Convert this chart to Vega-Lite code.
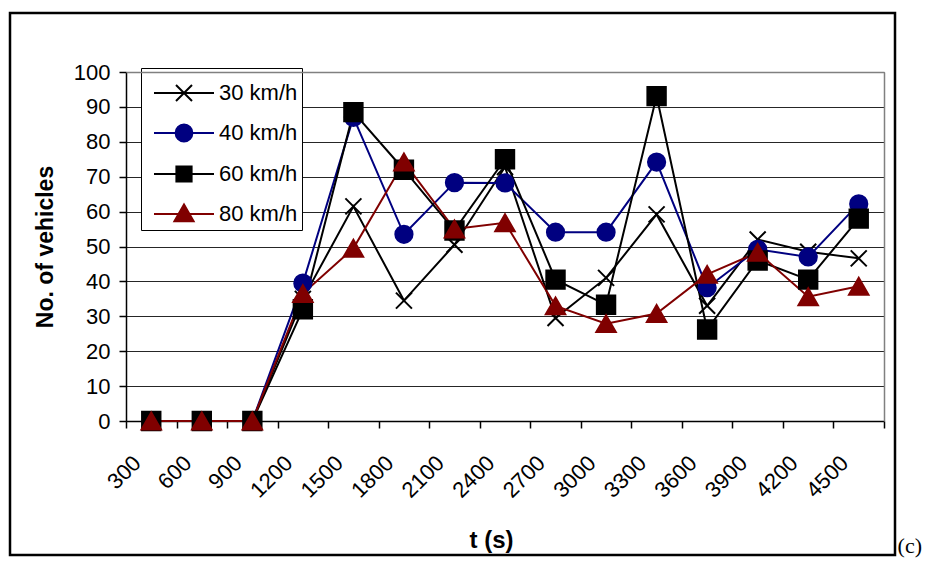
{
  "$schema": "https://vega.github.io/schema/vega-lite/v6.json",
  "width": 885,
  "height": 542,
  "padding": {"left": 10, "top": 13, "right": 40, "bottom": 10},
  "autosize": {"type": "none"},
  "background": "white",
  "config": {
    "view": {"stroke": "black", "strokeWidth": 2.5},
    "font": "Liberation Sans"
  },
  "title": {
    "text": "(c)",
    "orient": "bottom",
    "anchor": "end",
    "frame": "group",
    "font": "Liberation Serif",
    "fontSize": 22,
    "fontWeight": "normal",
    "color": "black",
    "offset": 0,
    "dx": 27,
    "dy": -2,
    "baseline": "alphabetic",
    "align": "right"
  },
  "data": {
    "values": [
      {"t": 300, "series": "30 km/h", "n": 0},
      {"t": 600, "series": "30 km/h", "n": 0},
      {"t": 900, "series": "30 km/h", "n": 0},
      {"t": 1200, "series": "30 km/h", "n": 35},
      {"t": 1500, "series": "30 km/h", "n": 61.5},
      {"t": 1800, "series": "30 km/h", "n": 34.5},
      {"t": 2100, "series": "30 km/h", "n": 50.5},
      {"t": 2400, "series": "30 km/h", "n": 72.8},
      {"t": 2700, "series": "30 km/h", "n": 29.5},
      {"t": 3000, "series": "30 km/h", "n": 41},
      {"t": 3300, "series": "30 km/h", "n": 59.2},
      {"t": 3600, "series": "30 km/h", "n": 33},
      {"t": 3900, "series": "30 km/h", "n": 52},
      {"t": 4200, "series": "30 km/h", "n": 48.5},
      {"t": 4500, "series": "30 km/h", "n": 46.6},
      {"t": 300, "series": "40 km/h", "n": 0},
      {"t": 600, "series": "40 km/h", "n": 0},
      {"t": 900, "series": "40 km/h", "n": 0},
      {"t": 1200, "series": "40 km/h", "n": 39.5},
      {"t": 1500, "series": "40 km/h", "n": 87},
      {"t": 1800, "series": "40 km/h", "n": 53.5},
      {"t": 2100, "series": "40 km/h", "n": 68.3},
      {"t": 2400, "series": "40 km/h", "n": 68.2},
      {"t": 2700, "series": "40 km/h", "n": 54.1},
      {"t": 3000, "series": "40 km/h", "n": 54.1},
      {"t": 3300, "series": "40 km/h", "n": 74.2},
      {"t": 3600, "series": "40 km/h", "n": 38.2},
      {"t": 3900, "series": "40 km/h", "n": 49.2},
      {"t": 4200, "series": "40 km/h", "n": 47},
      {"t": 4500, "series": "40 km/h", "n": 62.2},
      {"t": 300, "series": "60 km/h", "n": 0},
      {"t": 600, "series": "60 km/h", "n": 0},
      {"t": 900, "series": "60 km/h", "n": 0},
      {"t": 1200, "series": "60 km/h", "n": 32},
      {"t": 1500, "series": "60 km/h", "n": 88.5},
      {"t": 1800, "series": "60 km/h", "n": 72},
      {"t": 2100, "series": "60 km/h", "n": 54.6},
      {"t": 2400, "series": "60 km/h", "n": 75},
      {"t": 2700, "series": "60 km/h", "n": 40.5},
      {"t": 3000, "series": "60 km/h", "n": 33.3},
      {"t": 3300, "series": "60 km/h", "n": 93.1},
      {"t": 3600, "series": "60 km/h", "n": 26.2},
      {"t": 3900, "series": "60 km/h", "n": 46},
      {"t": 4200, "series": "60 km/h", "n": 40.5},
      {"t": 4500, "series": "60 km/h", "n": 58},
      {"t": 300, "series": "80 km/h", "n": 0},
      {"t": 600, "series": "80 km/h", "n": 0},
      {"t": 900, "series": "80 km/h", "n": 0},
      {"t": 1200, "series": "80 km/h", "n": 36.5},
      {"t": 1500, "series": "80 km/h", "n": 49.5},
      {"t": 1800, "series": "80 km/h", "n": 74.2},
      {"t": 2100, "series": "80 km/h", "n": 55},
      {"t": 2400, "series": "80 km/h", "n": 56.8},
      {"t": 2700, "series": "80 km/h", "n": 33},
      {"t": 3000, "series": "80 km/h", "n": 27.9},
      {"t": 3300, "series": "80 km/h", "n": 30.8},
      {"t": 3600, "series": "80 km/h", "n": 42},
      {"t": 3900, "series": "80 km/h", "n": 48.3},
      {"t": 4200, "series": "80 km/h", "n": 35.6},
      {"t": 4500, "series": "80 km/h", "n": 38.6}
    ]
  },
  "layer": [
    {
      "mark": {"type": "line", "strokeWidth": 2},
      "encoding": {
        "x": {
          "field": "t", "type": "ordinal",
          "scale": {"type": "band", "range": [116, 874], "paddingInner": 0, "paddingOuter": 0},
          "axis": {
            "orient": "bottom", "offset": -134,
            "title": "t (s)", "titleFontSize": 24, "titleFontWeight": "bold", "titleColor": "black",
            "titleX": 481, "titleY": 119, "titleBaseline": "middle", "titleAlign": "center",
            "labelAngle": -45, "labelAlign": "right", "labelBaseline": "alphabetic",
            "labelFontSize": 22, "labelColor": "black", "labelPadding": 36, "labelOffset": -9.5,
            "labelOverlap": false, "labelFlush": false,
            "tickBand": "extent", "tickSize": 7, "tickColor": "black", "tickWidth": 1.5,
            "domainColor": "black", "domainWidth": 1.5, "grid": false
          }
        },
        "y": {
          "field": "n", "type": "quantitative",
          "scale": {"domain": [0, 100], "range": [408, 59], "nice": false, "zero": true},
          "axis": {
            "orient": "left", "offset": -116,
            "title": "No. of vehicles", "titleFontSize": 23, "titleFontWeight": "bold", "titleColor": "black",
            "titleX": -81, "titleY": 233.5, "titleAngle": -90, "titleBaseline": "middle", "titleAlign": "center",
            "values": [0, 10, 20, 30, 40, 50, 60, 70, 80, 90, 100],
            "labelFontSize": 22, "labelColor": "black", "labelPadding": 9,
            "tickSize": 7, "tickColor": "black", "tickWidth": 1.5,
            "domainColor": "black", "domainWidth": 1.5,
            "grid": true, "gridColor": "#262626", "gridWidth": 1
          }
        },
        "color": {
          "field": "series", "type": "nominal",
          "scale": {"domain": ["30 km/h", "40 km/h", "60 km/h", "80 km/h"], "range": ["#000000", "#000080", "#000000", "#800000"]},
          "legend": {
            "title": null, "orient": "none", "legendX": 131, "legendY": 55, "direction": "vertical",
            "fillColor": "white", "strokeColor": "black", "padding": 4,
            "symbolSize": 1600, "symbolOffset": 18, "labelOffset": 14, "rowPadding": 7,
            "labelFontSize": 22, "labelFont": "Liberation Sans", "labelColor": "black",
            "symbolStrokeWidth": 2,
            "encode": {
              "symbols": {
                "update": {
                  "shape": {"signal": "datum.value === '30 km/h' ? 'M-1.5,0L1.5,0M-0.4,-0.4L0.4,0.4M0.4,-0.4L-0.4,0.4' : datum.value === '40 km/h' ? 'M-1.5,0L1.5,0M-0.42,0A0.42,0.42,0,1,0,0.42,0A0.42,0.42,0,1,0,-0.42,0Z' : datum.value === '60 km/h' ? 'M-1.5,0L1.5,0M-0.38,-0.38L0.38,-0.38L0.38,0.38L-0.38,0.38Z' : 'M-1.5,0L1.5,0M0,-0.48L0.48,0.36L-0.48,0.36Z'"},
                  "fill": {"signal": "scale('color', datum.value)"},
                  "stroke": {"signal": "scale('color', datum.value)"},
                  "strokeWidth": {"value": 2},
                  "size": {"value": 1600},
                  "opacity": {"value": 1}
                }
              }
            }
          }
        }
      }
    },
    {
      "mark": {"type": "point", "filled": true, "strokeWidth": 2, "opacity": 1},
      "encoding": {
        "x": {
          "field": "t", "type": "ordinal",
          "scale": {"type": "band", "range": [116, 874], "paddingInner": 0, "paddingOuter": 0},
          "axis": {"orient": "top", "offset": -59, "labels": false, "ticks": false, "title": null, "domainColor": "#808080", "domainWidth": 1.5, "grid": false, "zindex": 1}
        },
        "y": {
          "field": "n", "type": "quantitative",
          "scale": {"domain": [0, 100], "range": [408, 59], "nice": false},
          "axis": {"orient": "right", "offset": -11, "labels": false, "ticks": false, "title": null, "domainColor": "#808080", "domainWidth": 1.5, "grid": false, "zindex": 1}
        },
        "color": {
          "field": "series", "type": "nominal",
          "scale": {"domain": ["30 km/h", "40 km/h", "60 km/h", "80 km/h"], "range": ["#000000", "#000080", "#000000", "#800000"]}
        },
        "stroke": {
          "field": "series", "type": "nominal",
          "scale": {"domain": ["80 km/h", "60 km/h", "40 km/h", "30 km/h"], "range": ["#800000", "#000000", "#000080", "#000000"]},
          "legend": null
        },
        "shape": {
          "field": "series", "type": "nominal",
          "scale": {"domain": ["80 km/h", "60 km/h", "40 km/h", "30 km/h"], "range": ["triangle-up", "square", "circle", "M-1,-1L1,1M1,-1L-1,1"]},
          "legend": null
        },
        "size": {
          "field": "series", "type": "nominal",
          "scale": {"domain": ["80 km/h", "60 km/h", "40 km/h", "30 km/h"], "range": [380, 256, 256, 324]},
          "legend": null
        }
      }
    }
  ],
  "resolve": {
    "axis": {"x": "independent", "y": "independent"}
  }
}
